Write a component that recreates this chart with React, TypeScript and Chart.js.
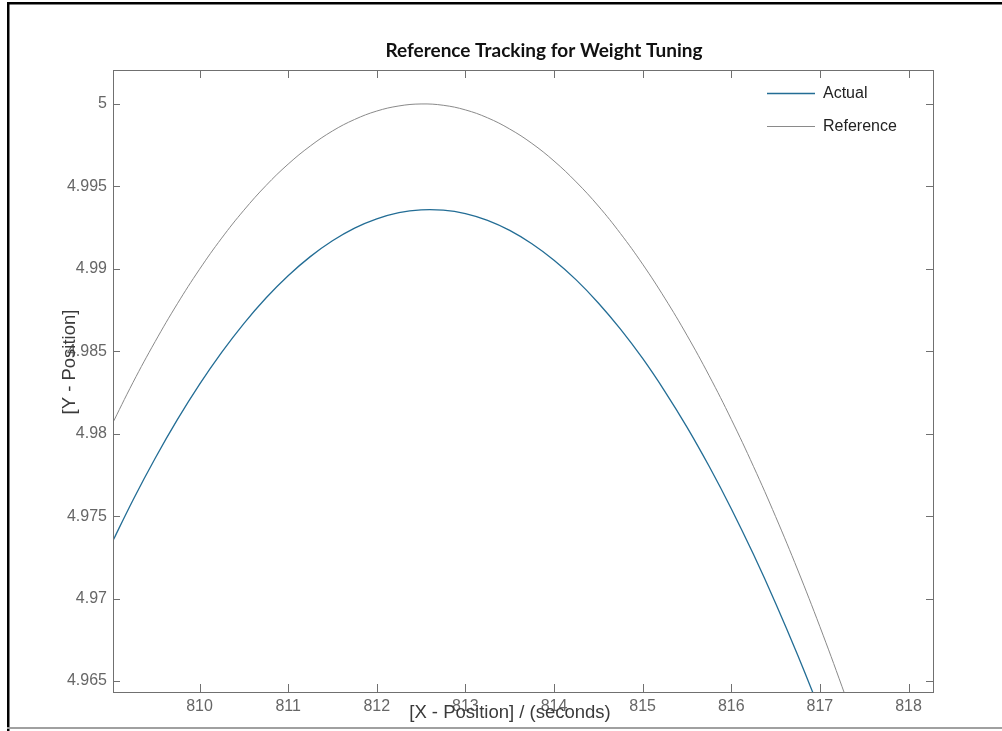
import React, { useEffect, useRef } from "react";
import { Chart, registerables } from "chart.js";

Chart.register(...registerables);

const TITLE = "Reference Tracking for Weight Tuning";
const X_TITLE = "[X - Position] / (seconds)";
const Y_TITLE = "[Y - Position]";

const timeValues = [
  809.0, 809.25, 809.5, 809.75, 810.0, 810.25, 810.5, 810.75, 811.0, 811.25, 811.5, 811.75,
  812.0, 812.25, 812.5, 812.75, 813.0, 813.25, 813.5, 813.75, 814.0, 814.25, 814.5, 814.75,
  815.0, 815.25, 815.5, 815.75, 816.0, 816.25, 816.5, 816.75, 817.0, 817.25, 817.5,
];

const actualValues = [
  4.97325, 4.97598, 4.97851, 4.98085, 4.98299, 4.98493, 4.98668, 4.98823, 4.98958, 4.99074,
  4.9917, 4.99247, 4.99303, 4.99341, 4.99358, 4.99356, 4.99335, 4.99294, 4.99233, 4.99152,
  4.99052, 4.98933, 4.98793, 4.98634, 4.98456, 4.98257, 4.9804, 4.97802, 4.97545, 4.97268,
  4.96972, 4.96656, 4.9632, 4.95965, 4.9559,
];

const referenceValues = [
  4.98042, 4.98311, 4.98559, 4.98788, 4.98997, 4.99186, 4.99355, 4.99505, 4.99635, 4.99745,
  4.99836, 4.99906, 4.99957, 4.99988, 5.0, 4.99992, 4.99964, 4.99916, 4.99848, 4.99761,
  4.99654, 4.99527, 4.99381, 4.99214, 4.99028, 4.98822, 4.98597, 4.98352, 4.98087, 4.97802,
  4.97497, 4.97173, 4.96829, 4.96465, 4.96082,
];

const xTickValues = [810, 811, 812, 813, 814, 815, 816, 817, 818];
const yTickValues = [4.965, 4.97, 4.975, 4.98, 4.985, 4.99, 4.995, 5.0];

const X_MIN = 809.024;
const X_MAX = 818.276;
const Y_MIN = 4.96433;
const Y_MAX = 5.00206;

const TICK_FONT = "Liberation Sans, Arial, sans-serif";

const decorPlugin = {
  id: "decor",
  beforeDraw(chart: any) {
    const ctx = chart.ctx;
    ctx.save();
    ctx.fillStyle = "#ffffff";
    ctx.fillRect(0, 0, chart.width, chart.height);
    // outer frame
    ctx.fillStyle = "#000000";
    ctx.fillRect(7, 2, 2.5, chart.height - 2);
    ctx.fillRect(7, 2, chart.width - 7, 2.5);
    ctx.fillStyle = "#a0a0a0";
    ctx.fillRect(7, 727, chart.width - 7, 2);
    ctx.restore();
  },
  afterDraw(chart: any) {
    const ctx = chart.ctx;
    const a = chart.chartArea;
    const xs = chart.scales.x;
    const ys = chart.scales.y;
    ctx.save();
    // axes box
    ctx.strokeStyle = "#707070";
    ctx.lineWidth = 1;
    ctx.strokeRect(Math.round(a.left) + 0.5, Math.round(a.top) + 0.5, Math.round(a.right - a.left), Math.round(a.bottom - a.top));
    // inward ticks
    ctx.beginPath();
    for (const v of xTickValues) {
      const px = Math.round(xs.getPixelForValue(v)) + 0.5;
      ctx.moveTo(px, a.bottom);
      ctx.lineTo(px, a.bottom - 8);
      ctx.moveTo(px, a.top);
      ctx.lineTo(px, a.top + 8);
    }
    for (const v of yTickValues) {
      const py = Math.round(ys.getPixelForValue(v)) + 0.5;
      ctx.moveTo(a.left, py);
      ctx.lineTo(a.left + 7, py);
      ctx.moveTo(a.right, py);
      ctx.lineTo(a.right - 7, py);
    }
    ctx.stroke();

    // title
    ctx.fillStyle = "#111111";
    ctx.font = "bold 19px Lato, 'Open Sans', sans-serif";
    ctx.textAlign = "center";
    ctx.textBaseline = "middle";
    ctx.fillText(TITLE, 544, 51);

    // axis titles
    ctx.fillStyle = "#3a3a3a";
    ctx.font = "18.5px " + TICK_FONT;
    ctx.fillText(X_TITLE, 510, 713);
    ctx.save();
    ctx.translate(70, 362);
    ctx.rotate(-Math.PI / 2);
    ctx.fillText(Y_TITLE, 0, 0);
    ctx.restore();

    // legend
    ctx.font = "16px " + TICK_FONT;
    ctx.textAlign = "left";
    chart.data.datasets.forEach((ds: any, i: number) => {
      const y = 93 + i * 33;
      ctx.strokeStyle = ds.borderColor;
      ctx.lineWidth = ds.borderWidth;
      ctx.beginPath();
      ctx.moveTo(767, y + 0.5);
      ctx.lineTo(815, y + 0.5);
      ctx.stroke();
      ctx.fillStyle = "#222222";
      ctx.fillText(ds.label, 823, y + 1);
    });
    ctx.restore();
  },
};

export default function App() {
  const canvasRef = useRef<HTMLCanvasElement | null>(null);

  useEffect(() => {
    document.body.style.margin = "0";
    const canvas = canvasRef.current;
    if (!canvas) return;
    const chart = new Chart(canvas, {
      type: "line",
      data: {
        datasets: [
          {
            label: "Actual",
            data: timeValues.map((t, i) => ({ x: t, y: actualValues[i] })),
            borderColor: "#236d95",
            borderWidth: 1.3,
            pointRadius: 0,
            tension: 0.4,
            fill: false,
          },
          {
            label: "Reference",
            data: timeValues.map((t, i) => ({ x: t, y: referenceValues[i] })),
            borderColor: "#8a8a8a",
            borderWidth: 1,
            pointRadius: 0,
            tension: 0.4,
            fill: false,
          },
        ],
      },
      options: {
        animation: false,
        responsive: false,
        maintainAspectRatio: false,
        devicePixelRatio: 1,
        layout: { padding: { top: 70, right: 69, left: 0, bottom: 0 } },
        plugins: {
          legend: { display: false },
          title: { display: false },
          tooltip: { enabled: false },
        },
        scales: {
          x: {
            type: "linear",
            min: X_MIN,
            max: X_MAX,
            grid: { display: false, drawTicks: false },
            border: { display: false },
            afterBuildTicks: (scale: any) => {
              scale.ticks = xTickValues.map((v) => ({ value: v }));
            },
            afterFit: (scale: any) => {
              scale.height = 39;
            },
            ticks: {
              padding: 5,
              color: "#666666",
              font: { family: TICK_FONT, size: 16 },
              maxRotation: 0,
              autoSkip: false,
              callback: (v: any) => String(Number(Number(v).toFixed(4))),
            },
          },
          y: {
            type: "linear",
            min: Y_MIN,
            max: Y_MAX,
            grid: { display: false, drawTicks: false },
            border: { display: false },
            afterBuildTicks: (scale: any) => {
              scale.ticks = yTickValues.map((v) => ({ value: v }));
            },
            afterFit: (scale: any) => {
              scale.width = 113;
            },
            ticks: {
              padding: 6,
              color: "#666666",
              font: { family: TICK_FONT, size: 16 },
              autoSkip: false,
              callback: (v: any) => String(Number(Number(v).toFixed(4))),
            },
          },
        },
      },
      plugins: [decorPlugin],
    } as any);
    return () => chart.destroy();
  }, []);

  return (
    <div style={{ width: 1002, height: 731, position: "relative" }}>
      <canvas ref={canvasRef} width={1002} height={731} style={{ display: "block" }} />
    </div>
  );
}
